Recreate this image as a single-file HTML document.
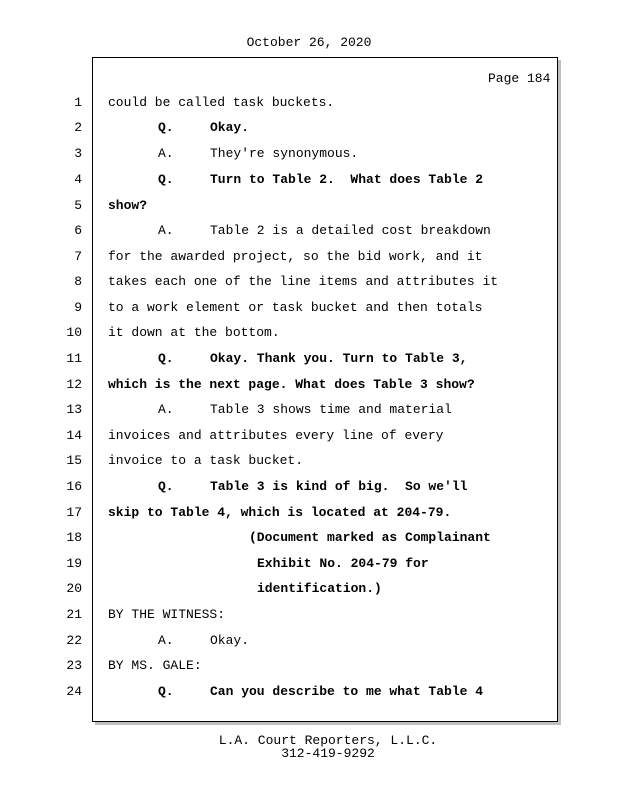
<!DOCTYPE html>
<html><head><style>
body{margin:0;width:618px;height:800px;background:#fff;position:relative;font-family:"Liberation Mono",monospace;font-size:13px;color:#000;overflow:hidden}
div{position:absolute;white-space:pre;line-height:16px}
.b{font-weight:bold}
.n{width:30px;text-align:right;left:52px}
#box{left:92px;top:57px;width:464px;height:663px;border:1.5px solid #000;box-shadow:3px 3px 0 #c0c0c0}
</style></head><body>
<div style="left:0;width:618px;text-align:center;top:35px">October 26, 2020</div>
<div id="box"></div>
<div style="left:488px;top:71px">Page 184</div>
<div class="n" style="top:95px">1</div><div style="left:108px;top:95px">could be called task buckets.</div>
<div class="n" style="top:120px">2</div><div class="b" style="left:158px;top:120px">Q.</div><div class="b" style="left:210px;top:120px">Okay.</div>
<div class="n" style="top:146px">3</div><div style="left:158px;top:146px">A.</div><div style="left:210px;top:146px">They're synonymous.</div>
<div class="n" style="top:172px">4</div><div class="b" style="left:158px;top:172px">Q.</div><div class="b" style="left:210px;top:172px">Turn to Table 2.  What does Table 2</div>
<div class="n" style="top:198px">5</div><div class="b" style="left:108px;top:198px">show?</div>
<div class="n" style="top:223px">6</div><div style="left:158px;top:223px">A.</div><div style="left:210px;top:223px">Table 2 is a detailed cost breakdown</div>
<div class="n" style="top:249px">7</div><div style="left:108px;top:249px">for the awarded project, so the bid work, and it</div>
<div class="n" style="top:274px">8</div><div style="left:108px;top:274px">takes each one of the line items and attributes it</div>
<div class="n" style="top:300px">9</div><div style="left:108px;top:300px">to a work element or task bucket and then totals</div>
<div class="n" style="top:325px">10</div><div style="left:108px;top:325px">it down at the bottom.</div>
<div class="n" style="top:351px">11</div><div class="b" style="left:158px;top:351px">Q.</div><div class="b" style="left:210px;top:351px">Okay. Thank you. Turn to Table 3,</div>
<div class="n" style="top:377px">12</div><div class="b" style="left:108px;top:377px">which is the next page. What does Table 3 show?</div>
<div class="n" style="top:402px">13</div><div style="left:158px;top:402px">A.</div><div style="left:210px;top:402px">Table 3 shows time and material</div>
<div class="n" style="top:428px">14</div><div style="left:108px;top:428px">invoices and attributes every line of every</div>
<div class="n" style="top:453px">15</div><div style="left:108px;top:453px">invoice to a task bucket.</div>
<div class="n" style="top:479px">16</div><div class="b" style="left:158px;top:479px">Q.</div><div class="b" style="left:210px;top:479px">Table 3 is kind of big.  So we'll</div>
<div class="n" style="top:505px">17</div><div class="b" style="left:108px;top:505px">skip to Table 4, which is located at 204-79.</div>
<div class="n" style="top:530px">18</div><div class="b" style="left:249px;top:530px">(Document marked as Complainant</div>
<div class="n" style="top:556px">19</div><div class="b" style="left:257px;top:556px">Exhibit No. 204-79 for</div>
<div class="n" style="top:581px">20</div><div class="b" style="left:257px;top:581px">identification.)</div>
<div class="n" style="top:607px">21</div><div style="left:108px;top:607px">BY THE WITNESS:</div>
<div class="n" style="top:633px">22</div><div style="left:158px;top:633px">A.</div><div style="left:210px;top:633px">Okay.</div>
<div class="n" style="top:658px">23</div><div style="left:108px;top:658px">BY MS. GALE:</div>
<div class="n" style="top:684px">24</div><div class="b" style="left:158px;top:684px">Q.</div><div class="b" style="left:210px;top:684px">Can you describe to me what Table 4</div>
<div style="left:0;width:656px;text-align:center;top:733px">L.A. Court Reporters, L.L.C.</div>
<div style="left:0;width:656px;text-align:center;top:746px">312-419-9292</div>
</body></html>
